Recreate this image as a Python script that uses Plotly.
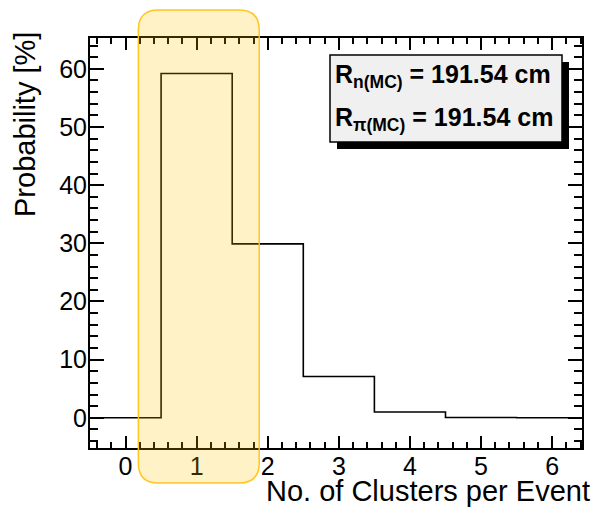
import plotly.graph_objects as go

# Histogram: cluster multiplicity per event
n_clusters = [0, 1, 2, 3, 4, 5, 6]
probability = [0.0, 59.2, 29.9, 7.1, 1.0, 0.05, 0.0]

x_tick_vals = [0, 1, 2, 3, 4, 5, 6]
y_tick_vals = [0, 10, 20, 30, 40, 50, 60]

highlight_bins = [0.18, 1.88]   # x range of the highlighted region
legend_lines = ["R<sub>n(MC)</sub> = 191.54 cm", "R<sub>π(MC)</sub> = 191.54 cm"]

# bin edges for a stepped outline
edges = [c - 0.5 for c in n_clusters] + [n_clusters[-1] + 0.5]
step_y = probability + [probability[-1]]

W, H = 597, 509
ML, MR, MT, MB = 90, 15, 38, 61
PW, PH = W - ML - MR, H - MT - MB


def px(x):
    return (x - ML) / PW


def py(y):
    return (H - MB - y) / PH


FONT = "Liberation Sans, Arial, Helvetica, sans-serif"

fig = go.Figure()
fig.add_trace(go.Scatter(
    x=edges, y=step_y, mode="lines",
    line=dict(color="black", width=1.6, shape="hv"),
    hoverinfo="skip", showlegend=False,
))

axis_common = dict(
    showline=True, linecolor="black", linewidth=2, mirror="allticks",
    ticks="inside", tickcolor="black", tickwidth=2,
    showgrid=False, zeroline=False,
    tickfont=dict(family=FONT, size=25, color="black"),
)

fig.update_xaxes(
    range=[-0.5, 6.42], tickvals=x_tick_vals, ticklen=12, ticklabelstandoff=-5,
    minor=dict(dtick=0.2, ticks="inside", ticklen=6, tickwidth=2, tickcolor="black", tick0=0),
    **axis_common,
)
fig.update_yaxes(
    range=[-5.2, 65.3], tickvals=y_tick_vals, ticklen=14, ticklabelstandoff=-4,
    minor=dict(dtick=2, ticks="inside", ticklen=8, tickwidth=2, tickcolor="black", tick0=0),
    **axis_common,
)

shapes = []

# rounded highlight region spanning beyond the frame (x in data units, y in paper units)
x0, x1 = highlight_bins
y_top, y_bot = py(10), py(483)
rx = 20 / (PW / 6.92)   # corner radius in data units
ry = 20 / PH            # corner radius in paper units
path = (
    f"M {x0 + rx},{y_top} L {x1 - rx},{y_top} Q {x1},{y_top} {x1},{y_top - ry} "
    f"L {x1},{y_bot + ry} Q {x1},{y_bot} {x1 - rx},{y_bot} "
    f"L {x0 + rx},{y_bot} Q {x0},{y_bot} {x0},{y_bot + ry} "
    f"L {x0},{y_top - ry} Q {x0},{y_top} {x0 + rx},{y_top} Z"
)
shapes.append(dict(
    type="path", xref="x", yref="paper", path=path, layer="above",
    fillcolor="rgba(255,195,0,0.22)",
    line=dict(color="rgba(255,195,20,0.95)", width=1.5),
))

# legend box with drop shadow
bx0, bx1, by0, by1 = 330, 562, 55, 142
shapes.append(dict(
    type="rect", xref="paper", yref="paper",
    x0=px(bx0 + 7), x1=px(bx1 + 7), y0=py(by1 + 7), y1=py(by0 + 7),
    fillcolor="black", line=dict(width=0), layer="above",
))
shapes.append(dict(
    type="rect", xref="paper", yref="paper",
    x0=px(bx0), x1=px(bx1), y0=py(by1), y1=py(by0),
    fillcolor="#f0f0f0", line=dict(color="black", width=1.5), layer="above",
))

annotations = []
for text, yc in zip(legend_lines, [76, 119]):
    annotations.append(dict(
        text=f"<b>{text}</b>", xref="paper", yref="paper",
        x=px(333), y=py(yc), xanchor="left", yanchor="middle",
        showarrow=False, font=dict(family=FONT, size=25, color="black"),
    ))

annotations.append(dict(
    text="Probability [%]", xref="paper", yref="paper",
    x=px(25), y=py(125), xanchor="center", yanchor="middle", textangle=-90,
    showarrow=False, font=dict(family=FONT, size=29, color="black"),
))
annotations.append(dict(
    text="No. of Clusters per Event", xref="paper", yref="paper",
    x=px(592), y=py(491), xanchor="right", yanchor="middle",
    showarrow=False, font=dict(family=FONT, size=29, color="black"),
))

fig.update_layout(
    width=W, height=H,
    margin=dict(l=ML, r=MR, t=MT, b=MB),
    paper_bgcolor="white", plot_bgcolor="white",
    shapes=shapes, annotations=annotations,
    showlegend=False,
)

fig.write_html("out.html")
